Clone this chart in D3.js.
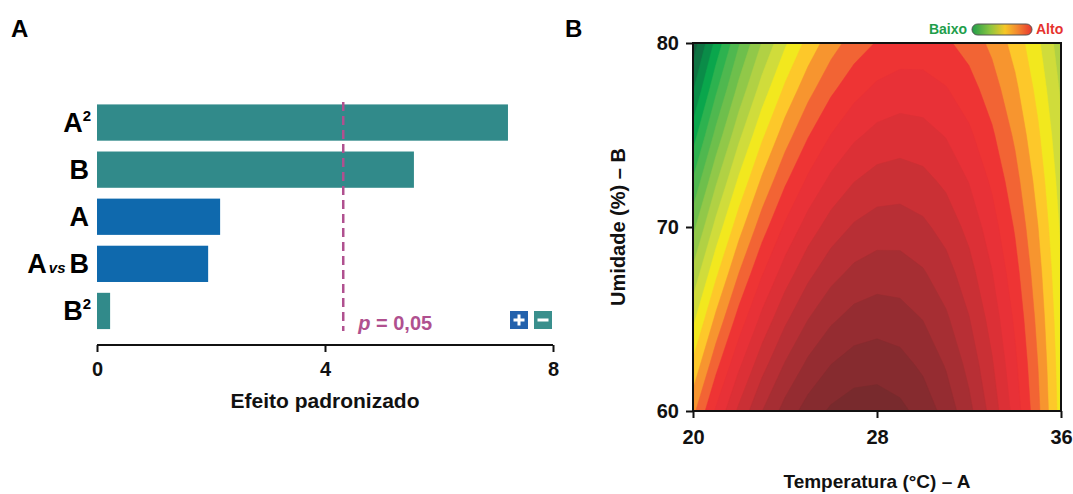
<!DOCTYPE html>
<html><head><meta charset="utf-8">
<script src="https://cdn.jsdelivr.net/npm/d3@7"></script>
<style>
body{margin:0;background:#fff}
svg{display:block}
text{font-family:"Liberation Sans",Arial,Helvetica,sans-serif;font-weight:bold}
</style>
</head><body>
<svg id="chart" width="1073" height="494"></svg>
<script>
// ---------- Panel A data ----------
const terms = ["A2", "B", "A", "AvsB", "B2"];
const effects = [7.21, 5.56, 2.16, 1.95, 0.23];
const effectSigns = ["-", "-", "+", "+", "-"];
const effectTicks = [0, 4, 8];
const pCritical = 4.32;

// ---------- Panel B data (response grid read from the surface) ----------
const gridTemps = [20, 21, 22, 23, 24, 25, 26, 27, 28, 29, 30, 31, 32, 33, 34, 35, 36];
const gridHums = [80, 77.5, 75, 72.5, 70, 67.5, 65, 62.5, 60];
const resp800 = [1.40, 4.30, 6.90, 9.05, 10.84, 12.34, 13.55, 14.46, 15.07, 15.40, 15.43, 15.16, 14.60, 13.75, 12.61, 11.17, 9.43];
const resp775 = [2.90, 5.80, 8.30, 10.42, 12.18, 13.63, 14.79, 15.64, 16.20, 16.45, 16.41, 16.06, 15.42, 14.47, 13.23, 11.68, 9.84];
const resp750 = [4.50, 7.30, 9.75, 11.80, 13.51, 14.92, 16.02, 16.81, 17.30, 17.49, 17.36, 16.94, 16.20, 15.16, 13.82, 12.16, 10.21];
const resp725 = [6.10, 8.85, 11.19, 13.17, 14.84, 16.19, 17.24, 17.97, 18.39, 18.50, 18.30, 17.79, 16.96, 15.82, 14.37, 12.61, 10.53];
const resp700 = [7.70, 10.34, 12.60, 14.54, 16.16, 17.46, 18.45, 19.12, 19.47, 19.50, 19.21, 18.61, 17.69, 16.45, 14.89, 13.01, 10.82];
const resp675 = [9.25, 11.79, 14.01, 15.91, 17.48, 18.73, 19.65, 20.25, 20.52, 20.48, 20.10, 19.41, 18.39, 17.04, 15.37, 13.38, 11.06];
const resp650 = [10.73, 13.24, 15.42, 17.27, 18.79, 19.98, 20.83, 21.36, 21.56, 21.43, 20.97, 20.17, 19.05, 17.60, 15.82, 13.70, 11.26];
const resp625 = [12.22, 14.70, 16.83, 18.63, 20.09, 21.22, 22.01, 22.46, 22.58, 22.36, 21.80, 20.91, 19.69, 18.12, 16.22, 13.99, 11.42];
const resp600 = [13.72, 16.15, 18.23, 19.98, 21.38, 22.44, 23.16, 23.54, 23.57, 23.26, 22.61, 21.62, 20.29, 18.61, 16.59, 14.23, 11.53];
const levels = [0, 1, 2, 3, 4, 5, 6, 7, 8, 9, 10, 11, 12, 13, 14, 15, 16, 17, 18, 19, 20, 21, 22, 23];
const tempTicks = [20, 28, 36];
const humTicks = [60, 70, 80];

// ---------- styles ----------
const bandColors = ["#13583a","#145f3e","#0f7343","#0a8c48","#0aa64c","#2db24f","#4fb84f","#6ebf4c","#91c849",
  "#b1d144","#d0dc3b","#f2e81e","#fdc82a","#f7952f","#f26434","#ee3434","#e83137","#dc3036",
  "#ca3035","#b82f35","#a62e33","#952c31","#862b2f","#782a2d"];
const signColor = {"+": "#0f69ad", "-": "#318a8a"};
const pColor = "#b0508f";

const svg = d3.select("#chart");

// ================= Panel A =================
const xA = d3.scaleLinear().domain([0, 8]).range([97, 553]);
const yA = d3.scaleBand().domain(terms).range([99, 334.5]).paddingInner(0.23).paddingOuter(0.115);

svg.append("text").attr("x", 11).attr("y", 37).attr("font-size", 24).text("A");

svg.append("g").selectAll("rect").data(terms).join("rect")
  .attr("x", xA(0))
  .attr("y", d => yA(d))
  .attr("width", (d, i) => xA(effects[i]) - xA(0))
  .attr("height", yA.bandwidth())
  .attr("fill", (d, i) => signColor[effectSigns[i]]);

// term labels
const lab = svg.append("g");
terms.forEach(t => {
  const cy = yA(t) + yA.bandwidth() / 2 + 9.5;
  const tx = lab.append("text").attr("x", 89).attr("y", cy).attr("text-anchor", "end").attr("font-size", 27);
  if (t === "A2" || t === "B2") {
    tx.append("tspan").text(t[0]);
    tx.append("tspan").attr("font-size", 15).attr("dy", -11).text("2");
    tx.attr("x", 91);
  } else if (t === "AvsB") {
    tx.append("tspan").text("A");
    tx.append("tspan").attr("font-size", 15).attr("font-style", "italic").attr("dx", 2).text("vs");
    tx.append("tspan").attr("dx", 4).text("B");
  } else {
    tx.text(t);
  }
});

// x axis
const axA = svg.append("g").attr("transform", "translate(0,345)")
  .call(d3.axisBottom(xA).tickValues(effectTicks).tickSize(7).tickFormat(d3.format("d")));
axA.select(".domain").attr("stroke", "#111").attr("stroke-width", 2).attr("d", `M${xA(0)},0H${xA(8)}`);
axA.selectAll(".tick line").attr("stroke", "#111").attr("stroke-width", 2);
axA.selectAll(".tick text").attr("font-size", 20).attr("fill", "#111").attr("dy", "1.05em")
  .attr("font-family", "'Liberation Sans',Arial,sans-serif").attr("font-weight", "bold");
svg.append("text").attr("x", xA(4)).attr("y", 408).attr("text-anchor", "middle").attr("font-size", 21)
  .attr("fill", "#111").text("Efeito padronizado");

// p line
svg.append("line").attr("x1", xA(pCritical)).attr("x2", xA(pCritical)).attr("y1", 102).attr("y2", 331)
  .attr("stroke", pColor).attr("stroke-width", 2.5).attr("stroke-dasharray", "9,5");
const pt = svg.append("text").attr("x", xA(pCritical) + 15).attr("y", 330).attr("font-size", 20).attr("fill", pColor);
pt.append("tspan").attr("font-style", "italic").text("p");
pt.append("tspan").text(" = 0,05");

// +/- legend
const sg = svg.append("g");
[["+", 510], ["-", 534]].forEach(([s, x]) => {
  sg.append("rect").attr("x", x).attr("y", 311).attr("width", 18).attr("height", 18).attr("fill", s === "+" ? "#2362ad" : "#3a8f8d");
  sg.append("rect").attr("x", x + 3.5).attr("y", 318.5).attr("width", 11).attr("height", 3).attr("fill", "#fff");
  if (s === "+") sg.append("rect").attr("x", x + 7.5).attr("y", 314.5).attr("width", 3).attr("height", 11).attr("fill", "#fff");
});

// ================= Panel B =================
const xB = d3.scaleLinear().domain([20, 36]).range([693, 1061]);
const yB = d3.scaleLinear().domain([60, 80]).range([411, 43]);

svg.append("text").attr("x", 565).attr("y", 37).attr("font-size", 24).text("B");

const values = [].concat(resp800, resp775, resp750, resp725, resp700, resp675, resp650, resp625, resp600);
const nx = gridTemps.length, ny = gridHums.length;
const gT = d3.scaleLinear().domain([0, nx - 1]).range([gridTemps[0], gridTemps[nx - 1]]);
const gH = d3.scaleLinear().domain([0, ny - 1]).range([gridHums[0], gridHums[ny - 1]]);
const proj = d3.geoTransform({
  point(x, y) { this.stream.point(xB(gT(x - 0.5)), yB(gH(y - 0.5))); }
});
const path = d3.geoPath(proj);
const contours = d3.contours().size([nx, ny]).thresholds(levels)(values);

svg.append("clipPath").attr("id", "plotclip").append("rect")
  .attr("x", xB(20)).attr("y", yB(80)).attr("width", xB(36) - xB(20)).attr("height", yB(60) - yB(80));
svg.append("g").attr("clip-path", "url(#plotclip)")
  .selectAll("path").data(contours).join("path")
  .attr("d", path)
  .attr("fill", (d, i) => bandColors[i])
  .attr("stroke", (d, i) => bandColors[i]).attr("stroke-width", 0.5);

svg.append("rect").attr("x", xB(20)).attr("y", yB(80)).attr("width", xB(36) - xB(20)).attr("height", yB(60) - yB(80))
  .attr("fill", "none").attr("stroke", "#111").attr("stroke-width", 2);

const axBx = svg.append("g").attr("transform", `translate(0,${yB(60)})`)
  .call(d3.axisBottom(xB).tickValues(tempTicks).tickSize(7));
axBx.select(".domain").remove();
axBx.selectAll(".tick line").attr("stroke", "#111").attr("stroke-width", 2);
axBx.selectAll(".tick text").attr("font-size", 20).attr("fill", "#111").attr("dy", "1.15em")
  .attr("font-family", "'Liberation Sans',Arial,sans-serif").attr("font-weight", "bold");

const axBy = svg.append("g").attr("transform", `translate(${xB(20)},0)`)
  .call(d3.axisLeft(yB).tickValues(humTicks).tickSize(7));
axBy.select(".domain").remove();
axBy.selectAll(".tick line").attr("stroke", "#111").attr("stroke-width", 2);
axBy.selectAll(".tick text").attr("font-size", 20).attr("fill", "#111").attr("dx", "-0.2em")
  .attr("font-family", "'Liberation Sans',Arial,sans-serif").attr("font-weight", "bold");

svg.append("text").attr("x", xB(28)).attr("y", 488).attr("text-anchor", "middle").attr("font-size", 19)
  .attr("fill", "#111").text("Temperatura (°C) – A");
svg.append("text").attr("transform", `translate(625,${yB(70)}) rotate(-90)`).attr("text-anchor", "middle")
  .attr("font-size", 20).attr("fill", "#111").text("Umidade (%) – B");

// legend
const defs = svg.append("defs");
const grad = defs.append("linearGradient").attr("id", "lg");
[["0%", "#1f9d4a"], ["30%", "#8cc540"], ["55%", "#f6c726"], ["75%", "#f38a2f"], ["100%", "#e8342f"]]
  .forEach(([o, c]) => grad.append("stop").attr("offset", o).attr("stop-color", c));
svg.append("rect").attr("x", 972).attr("y", 24).attr("width", 60).attr("height", 11).attr("rx", 5.5)
  .attr("fill", "url(#lg)").attr("stroke", "#555").attr("stroke-width", 1);
svg.append("text").attr("x", 967).attr("y", 34).attr("text-anchor", "end").attr("font-size", 14)
  .attr("fill", "#1e9e4b").text("Baixo");
svg.append("text").attr("x", 1036).attr("y", 34).attr("font-size", 14).attr("fill", "#e6332e").text("Alto");
</script>
</body></html>
